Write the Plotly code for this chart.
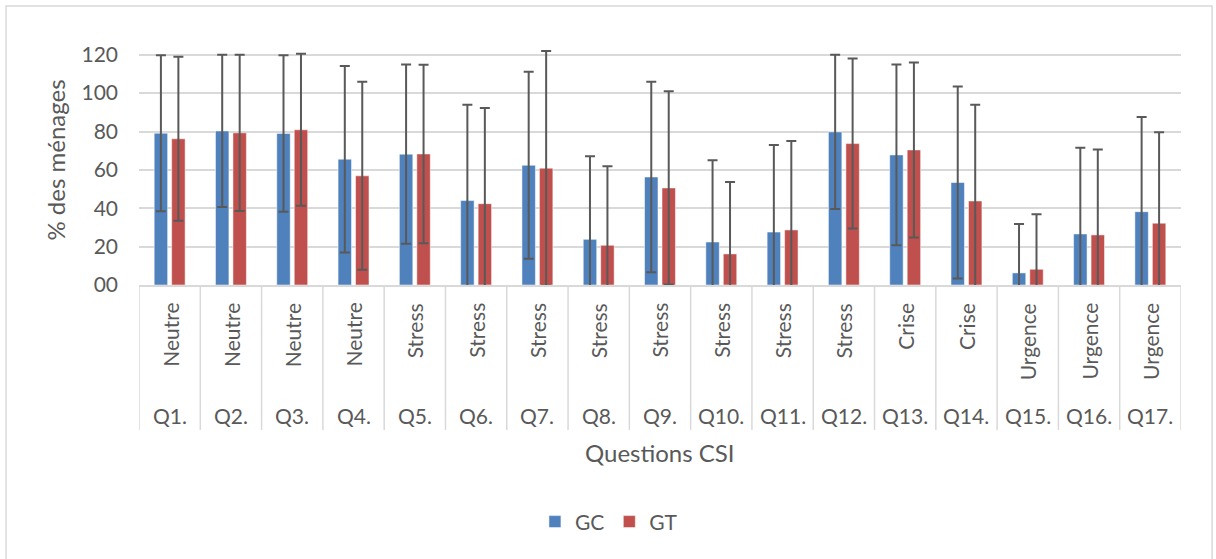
import plotly.graph_objects as go

questions = ['Q1.', 'Q2.', 'Q3.', 'Q4.', 'Q5.', 'Q6.', 'Q7.', 'Q8.', 'Q9.',
             'Q10.', 'Q11.', 'Q12.', 'Q13.', 'Q14.', 'Q15.', 'Q16.', 'Q17.']
groupes = ['Neutre', 'Neutre', 'Neutre', 'Neutre', 'Stress', 'Stress', 'Stress',
           'Stress', 'Stress', 'Stress', 'Stress', 'Stress', 'Crise', 'Crise',
           'Urgence', 'Urgence', 'Urgence']

gc = [79.1, 80.3, 79.0, 65.6, 68.2, 44.0, 62.4, 23.8, 56.3, 22.4, 27.6, 79.8,
      67.8, 53.4, 6.3, 26.6, 38.2]
gc_err = [40.7, 39.7, 40.8, 48.6, 46.7, 50.0, 48.7, 43.3, 49.6, 42.6, 45.4, 40.2,
          47.1, 50.0, 25.5, 44.9, 49.4]
gt = [76.2, 79.3, 80.9, 56.9, 68.3, 42.4, 60.9, 20.7, 50.6, 16.2, 28.7, 73.7,
      70.4, 43.8, 8.2, 26.1, 32.2]
gt_err = [42.7, 40.7, 39.6, 49.0, 46.5, 49.9, 61.1, 41.2, 50.4, 37.5, 46.3, 44.3,
          45.6, 50.1, 28.7, 44.5, 47.4]

y_ticks = [0, 20, 40, 60, 80, 100, 120]
y_ticktext = ['00', '20', '40', '60', '80', '100', '120']

grey_txt = '#595959'
grid = '#D9D9D9'
font = 'Lato'

fig = go.Figure()
fig.add_trace(go.Bar(x=questions, y=gc, name='GC',
                     marker_color='#4F81BD',
                     marker_line=dict(color='rgba(255,255,255,0.5)', width=1),
                     error_y=dict(type='data', array=gc_err, color=grey_txt,
                                  thickness=2, width=5)))
fig.add_trace(go.Bar(x=questions, y=gt, name='GT',
                     marker_color='#C0504D',
                     marker_line=dict(color='rgba(255,255,255,0.5)', width=1),
                     error_y=dict(type='data', array=gt_err, color=grey_txt,
                                  thickness=2, width=5)))

# two-level category labels under the axis
annotations = []
for i, (q, g) in enumerate(zip(questions, groupes)):
    annotations.append(dict(x=i, y=-0.068, xref='x', yref='paper', text=g,
                            textangle=-90, showarrow=False, yanchor='top',
                            xanchor='center',
                            font=dict(family=font, size=21, color=grey_txt)))
    annotations.append(dict(x=i, y=-0.555, xref='x', yref='paper', text=q,
                            showarrow=False, yanchor='middle', xanchor='center',
                            font=dict(family=font, size=21, color=grey_txt)))

annotations.append(dict(x=0.5, y=-0.708, xref='paper', yref='paper',
                        text='Questions CSI', showarrow=False,
                        xanchor='center', yanchor='middle',
                        font=dict(family=font, size=24, color=grey_txt)))
annotations.append(dict(x=-0.08, y=0.53, xref='paper', yref='paper',
                        text='% des ménages', textangle=-90, showarrow=False,
                        xanchor='center', yanchor='middle',
                        font=dict(family=font, size=24, color=grey_txt)))

shapes = []
for i in range(len(questions) + 1):
    shapes.append(dict(type='line', xref='x', yref='paper',
                       x0=i - 0.5, x1=i - 0.5, y0=0, y1=-0.614,
                       line=dict(color=grid, width=1.5)))
# chart border
shapes.append(dict(type='rect', xref='paper', yref='paper',
                   x0=-0.1276, x1=1.0298, y0=-1.3, y1=1.182,
                   line=dict(color=grid, width=1.5)))

fig.update_layout(
    width=1216, height=559,
    margin=dict(l=139, r=35, t=49, b=274),
    barmode='group', bargap=0.43, bargroupgap=0.23,
    plot_bgcolor='white', paper_bgcolor='white',
    font=dict(family=font, color=grey_txt, size=21),
    showlegend=True,
    legend=dict(orientation='h', x=0.451, xanchor='center', y=-1.004,
                yanchor='middle', font=dict(size=21), itemwidth=30),
    annotations=annotations,
    shapes=shapes,
)

fig.update_xaxes(showticklabels=False, showgrid=False, ticks='',
                 showline=True, linecolor=grid, linewidth=1.5,
                 range=[-0.5, len(questions) - 0.5])
fig.update_yaxes(range=[0, 123], tickvals=y_ticks, ticktext=y_ticktext,
                 showgrid=True, gridcolor=grid, gridwidth=1.5,
                 zeroline=False, showline=False, ticklabelstandoff=20,
                 tickfont=dict(size=21, color=grey_txt))

fig.write_html("out.html", config={'displayModeBar': False},
               post_script="document.body.style.margin = '0';")
